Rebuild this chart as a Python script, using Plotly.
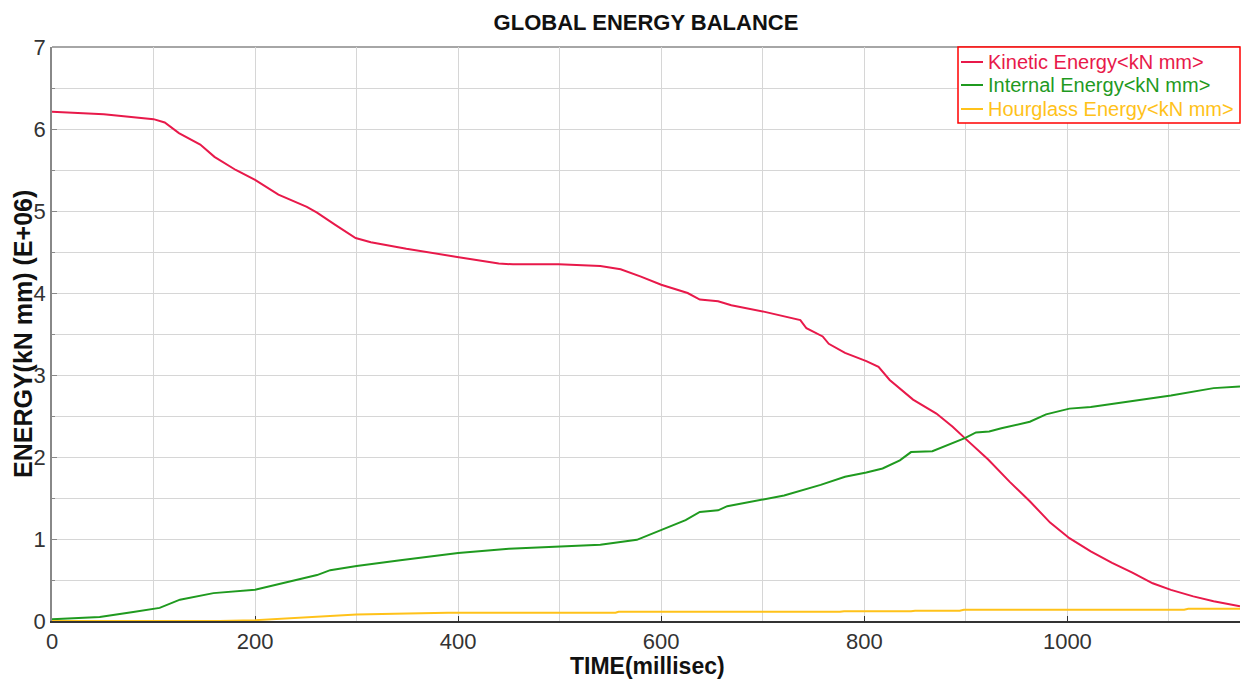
import plotly.graph_objects as go

# ---- data ----
kinetic_t = [0, 16, 51, 100, 111, 125, 146, 160, 181, 200, 223, 251, 261, 279, 299, 314, 349, 399,
             440, 454, 499, 540, 560, 580, 600, 626, 638, 656, 669, 702, 725, 737, 743, 759, 765,
             781, 802, 814, 825, 848, 871, 887, 899, 922, 943, 963, 983, 1002, 1023, 1044, 1064,
             1084, 1102, 1124, 1144, 1170]
kinetic_e = [6.21, 6.20, 6.18, 6.12, 6.08, 5.95, 5.81, 5.66, 5.50, 5.38, 5.20, 5.05, 4.98, 4.83,
             4.67, 4.62, 4.54, 4.44, 4.36, 4.35, 4.35, 4.33, 4.29, 4.20, 4.10, 4.00, 3.92, 3.90,
             3.85, 3.77, 3.71, 3.67, 3.57, 3.47, 3.38, 3.27, 3.17, 3.10, 2.94, 2.70, 2.53, 2.37,
             2.23, 1.97, 1.70, 1.46, 1.20, 1.01, 0.85, 0.71, 0.59, 0.46, 0.38, 0.30, 0.24, 0.18]

internal_t = [0, 47, 80, 106, 126, 159, 200, 234, 261, 274, 300, 343, 400, 450, 500, 540, 576,
              600, 624, 638, 656, 665, 702, 721, 757, 781, 802, 818, 835, 846, 867, 884, 899,
              910, 923, 935, 963, 979, 1002, 1023, 1064, 1102, 1144, 1170]
internal_e = [0.02, 0.05, 0.11, 0.16, 0.26, 0.34, 0.38, 0.48, 0.56, 0.62, 0.67, 0.74, 0.83, 0.88,
              0.91, 0.93, 0.99, 1.11, 1.23, 1.33, 1.35, 1.40, 1.48, 1.53, 1.66, 1.76, 1.81, 1.86,
              1.96, 2.06, 2.07, 2.15, 2.23, 2.30, 2.31, 2.35, 2.43, 2.52, 2.59, 2.61, 2.68, 2.75,
              2.84, 2.86]

hourglass_t = [0, 165, 200, 240, 270, 300, 350, 388, 390, 555, 558, 776, 780, 846, 850, 894, 898,
               1115, 1119, 1170]
hourglass_e = [0.0, 0.0, 0.01, 0.04, 0.06, 0.08, 0.09, 0.095, 0.10, 0.10, 0.113, 0.113, 0.12,
               0.12, 0.126, 0.126, 0.138, 0.138, 0.15, 0.15]

series_names = ["Kinetic Energy<kN mm>", "Internal Energy<kN mm>", "Hourglass Energy<kN mm>"]
series_colors = ["#e8194a", "#1f9a1f", "#ffc21a"]

x_ticks = [0, 200, 400, 600, 800, 1000]
y_ticks = [0, 1, 2, 3, 4, 5, 6, 7]

FONT = "Liberation Sans, Arial, sans-serif"
W, H = 1241, 679
L, R, T, B = 52, 1, 47, 58
PW, PH = W - L - R, H - T - B


def px_x(p):  # pixel -> paper x
    return (p - L) / PW


def px_y(p):  # pixel -> paper y
    return (H - B - p) / PH


def esc(s):
    return s.replace("<", "&lt;").replace(">", "&gt;")


fig = go.Figure()
for t, e, name, col in zip([kinetic_t, internal_t, hourglass_t],
                           [kinetic_e, internal_e, hourglass_e],
                           series_names, series_colors):
    fig.add_trace(go.Scatter(x=t, y=e, mode="lines", name=esc(name),
                             line=dict(color=col, width=2), showlegend=False))

fig.update_layout(
    width=W, height=H,
    margin=dict(l=L, r=R, t=T, b=B, autoexpand=False),
    paper_bgcolor="white", plot_bgcolor="white",
    font=dict(family=FONT, color="#333333"),
    title=dict(text="<b>GLOBAL ENERGY BALANCE</b>", x=646 / W,
               xanchor="center", y=1 - 22 / H, yanchor="middle",
               font=dict(size=22, color="#111111", family=FONT)),
)

fig.update_xaxes(
    range=[0, 1170], tickvals=x_ticks, ticktext=[str(v) for v in x_ticks],
    showgrid=True, gridcolor="#d6d6d6", gridwidth=1.3,
    minor=dict(dtick=100, showgrid=True, gridcolor="#d6d6d6", gridwidth=1.3),
    showline=True, linecolor="#333333", linewidth=2,
    ticks="inside", ticklen=5, tickcolor="#333333",
    tickfont=dict(size=22, color="#333333"),
    zeroline=False, layer="below traces",
)
fig.update_yaxes(
    range=[0, 7], tickvals=y_ticks, ticktext=[str(v) for v in y_ticks],
    showgrid=True, gridcolor="#d6d6d6", gridwidth=1.3,
    minor=dict(dtick=0.5, showgrid=True, gridcolor="#d6d6d6", gridwidth=1.3,
               ticks="inside", ticklen=3, tickcolor="#888888"),
    showline=True, linecolor="#888888", linewidth=1.5,
    ticks="inside", ticklen=5, tickcolor="#888888",
    tickfont=dict(size=22, color="#333333"),
    zeroline=False, layer="below traces",
)

# axis titles
fig.add_annotation(text="<b>TIME(millisec)</b>", xref="paper", yref="paper",
                   x=px_x(647), y=px_y(666), xanchor="center", yanchor="middle",
                   showarrow=False, font=dict(size=23, color="#111111", family=FONT))
fig.add_annotation(text="<b>ENERGY(kN mm) (E+06)</b>", xref="paper", yref="paper",
                   x=px_x(23), y=px_y(334), xanchor="center", yanchor="middle",
                   textangle=-90, showarrow=False,
                   font=dict(size=25, color="#111111", family=FONT))

# top border of the plot frame
fig.add_shape(type="line", xref="paper", yref="paper", x0=0, x1=1, y0=1, y1=1,
              line=dict(color="#888888", width=1.5), layer="below")

# legend box (drawn manually to match the reference layout)
fig.add_shape(type="rect", xref="paper", yref="paper",
              x0=px_x(958), x1=px_x(1240), y0=px_y(123), y1=px_y(47),
              line=dict(color="#ff0000", width=1.5), fillcolor="white", layer="above")
row_y = [62, 85, 109]
for name, col, ry in zip(series_names, series_colors, row_y):
    fig.add_shape(type="line", xref="paper", yref="paper",
                  x0=px_x(961), x1=px_x(983), y0=px_y(ry), y1=px_y(ry),
                  line=dict(color=col, width=2), layer="above")
    fig.add_annotation(text=esc(name), xref="paper", yref="paper",
                       x=px_x(986), y=px_y(ry), xanchor="left", yanchor="middle",
                       showarrow=False, font=dict(size=20, color=col, family=FONT))

fig.write_html("out.html",
               config={"displayModeBar": False},
               post_script="document.body.style.margin='0';"
                           "document.documentElement.style.overflow='hidden';")
